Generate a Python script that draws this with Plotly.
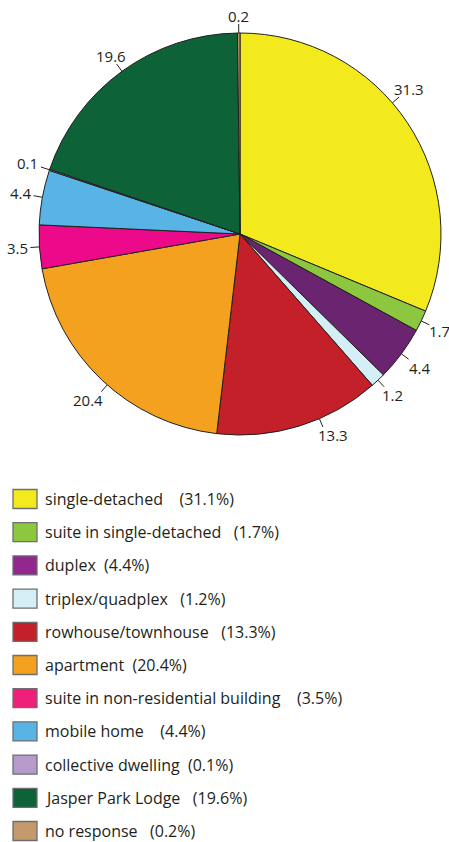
import math
import plotly.graph_objects as go

# ---- data ----
categories = ["single-detached", "suite in single-detached", "duplex", "triplex/quadplex",
              "rowhouse/townhouse", "apartment", "suite in non-residential building",
              "mobile home", "collective dwelling", "Jasper Park Lodge", "no response"]
slice_values = [31.3, 1.7, 4.4, 1.2, 13.3, 20.4, 3.5, 4.4, 0.1, 19.6, 0.2]
legend_percents = [31.1, 1.7, 4.4, 1.2, 13.3, 20.4, 3.5, 4.4, 0.1, 19.6, 0.2]

# ---- style ----
pie_colors = ["#F3EA1D", "#8DC63F", "#6B2570", "#D4EEF5", "#C3202A", "#F4A11F",
              "#EC0A8B", "#58B4E5", "#B59ACB", "#0D6237", "#C49A6C"]
legend_colors = ["#F3EA1D", "#8DC63F", "#92278F", "#D4EEF5", "#C3202A", "#F4A11F",
                 "#EE2079", "#58B4E5", "#B59ACB", "#0D6237", "#C49A6C"]
legend_gaps = [3, 2, 1, 2, 2, 1, 3, 3, 1, 2, 2]
label_angle_nudge = [-7, 0, 0, 0, -6, -2, 0, 0, 0, 0, 0]
label_pad_x = [0, -3, 0, 0, 6, -6, 0, 0, 0, 0, 0]
TXT = "#231F20"
FONT = "Open Sans"
W, H = 449, 842
CX, CY, R = 240, 234, 201
TICK = 9

fig = go.Figure()
fig.add_trace(go.Pie(
    values=slice_values, labels=categories, sort=False, direction="clockwise",
    rotation=0, textinfo="none", hoverinfo="label+value", showlegend=False,
    marker=dict(colors=pie_colors, line=dict(color="#231F20", width=1)),
    domain=dict(x=[(CX - R) / W, (CX + R) / W], y=[1 - (CY + R) / H, 1 - (CY - R) / H]),
))

# leader ticks and value labels
cum = 0.0
tot = sum(slice_values)
tx, ty = [], []
for i, v in enumerate(slice_values):
    ang = math.radians((cum + v / 2) / tot * 360 + label_angle_nudge[i])
    cum += v
    s, c = math.sin(ang), -math.cos(ang)
    x0, y0 = CX + R * s, CY + R * c
    x1, y1 = CX + (R + TICK) * s, CY + (R + TICK) * c
    tx += [x0, x1, None]
    ty += [y0, y1, None]
    txt = f"{v:.1f}"
    w2, h2 = len(txt) * 4.0 + 1, 8.5
    t = min(w2 / abs(s) if abs(s) > 1e-6 else 1e9, h2 / abs(c) if abs(c) > 1e-6 else 1e9)
    fig.add_annotation(x=x1 + t * s + label_pad_x[i], y=y1 + t * c, text=txt, showarrow=False,
                       xref="x", yref="y", xanchor="center", yanchor="middle",
                       font=dict(family=FONT, size=15, color=TXT))
fig.add_trace(go.Scatter(x=tx, y=ty, mode="lines", line=dict(color=TXT, width=1),
                         hoverinfo="skip", showlegend=False))

# custom legend
ROW0, DY = 499, 33.2
for i, (name, p) in enumerate(zip(categories, legend_percents)):
    yc = ROW0 + i * DY
    fig.add_shape(type="rect", xref="x", yref="y", x0=13, x1=37, y0=yc - 9.5, y1=yc + 9.5,
                  fillcolor=legend_colors[i], line=dict(color="#6D6E71", width=1.3))
    fig.add_annotation(x=43, y=yc, xref="x", yref="y", xanchor="left", yanchor="middle",
                       showarrow=False,
                       text=name + "&nbsp;" * (legend_gaps[i] + 1) + f"({p:.1f}%)",
                       font=dict(family=FONT, size=16, color=TXT))

fig.update_layout(
    width=W, height=H, margin=dict(l=0, r=0, t=0, b=0),
    paper_bgcolor="white", plot_bgcolor="rgba(0,0,0,0)", showlegend=False,
    xaxis=dict(range=[0, W], visible=False, domain=[0, 1], fixedrange=True),
    yaxis=dict(range=[H, 0], visible=False, domain=[0, 1], fixedrange=True),
)
fig.write_html("out.html", config={"displayModeBar": False},
               post_script="document.body.style.margin='0';document.body.style.overflow='hidden';")
